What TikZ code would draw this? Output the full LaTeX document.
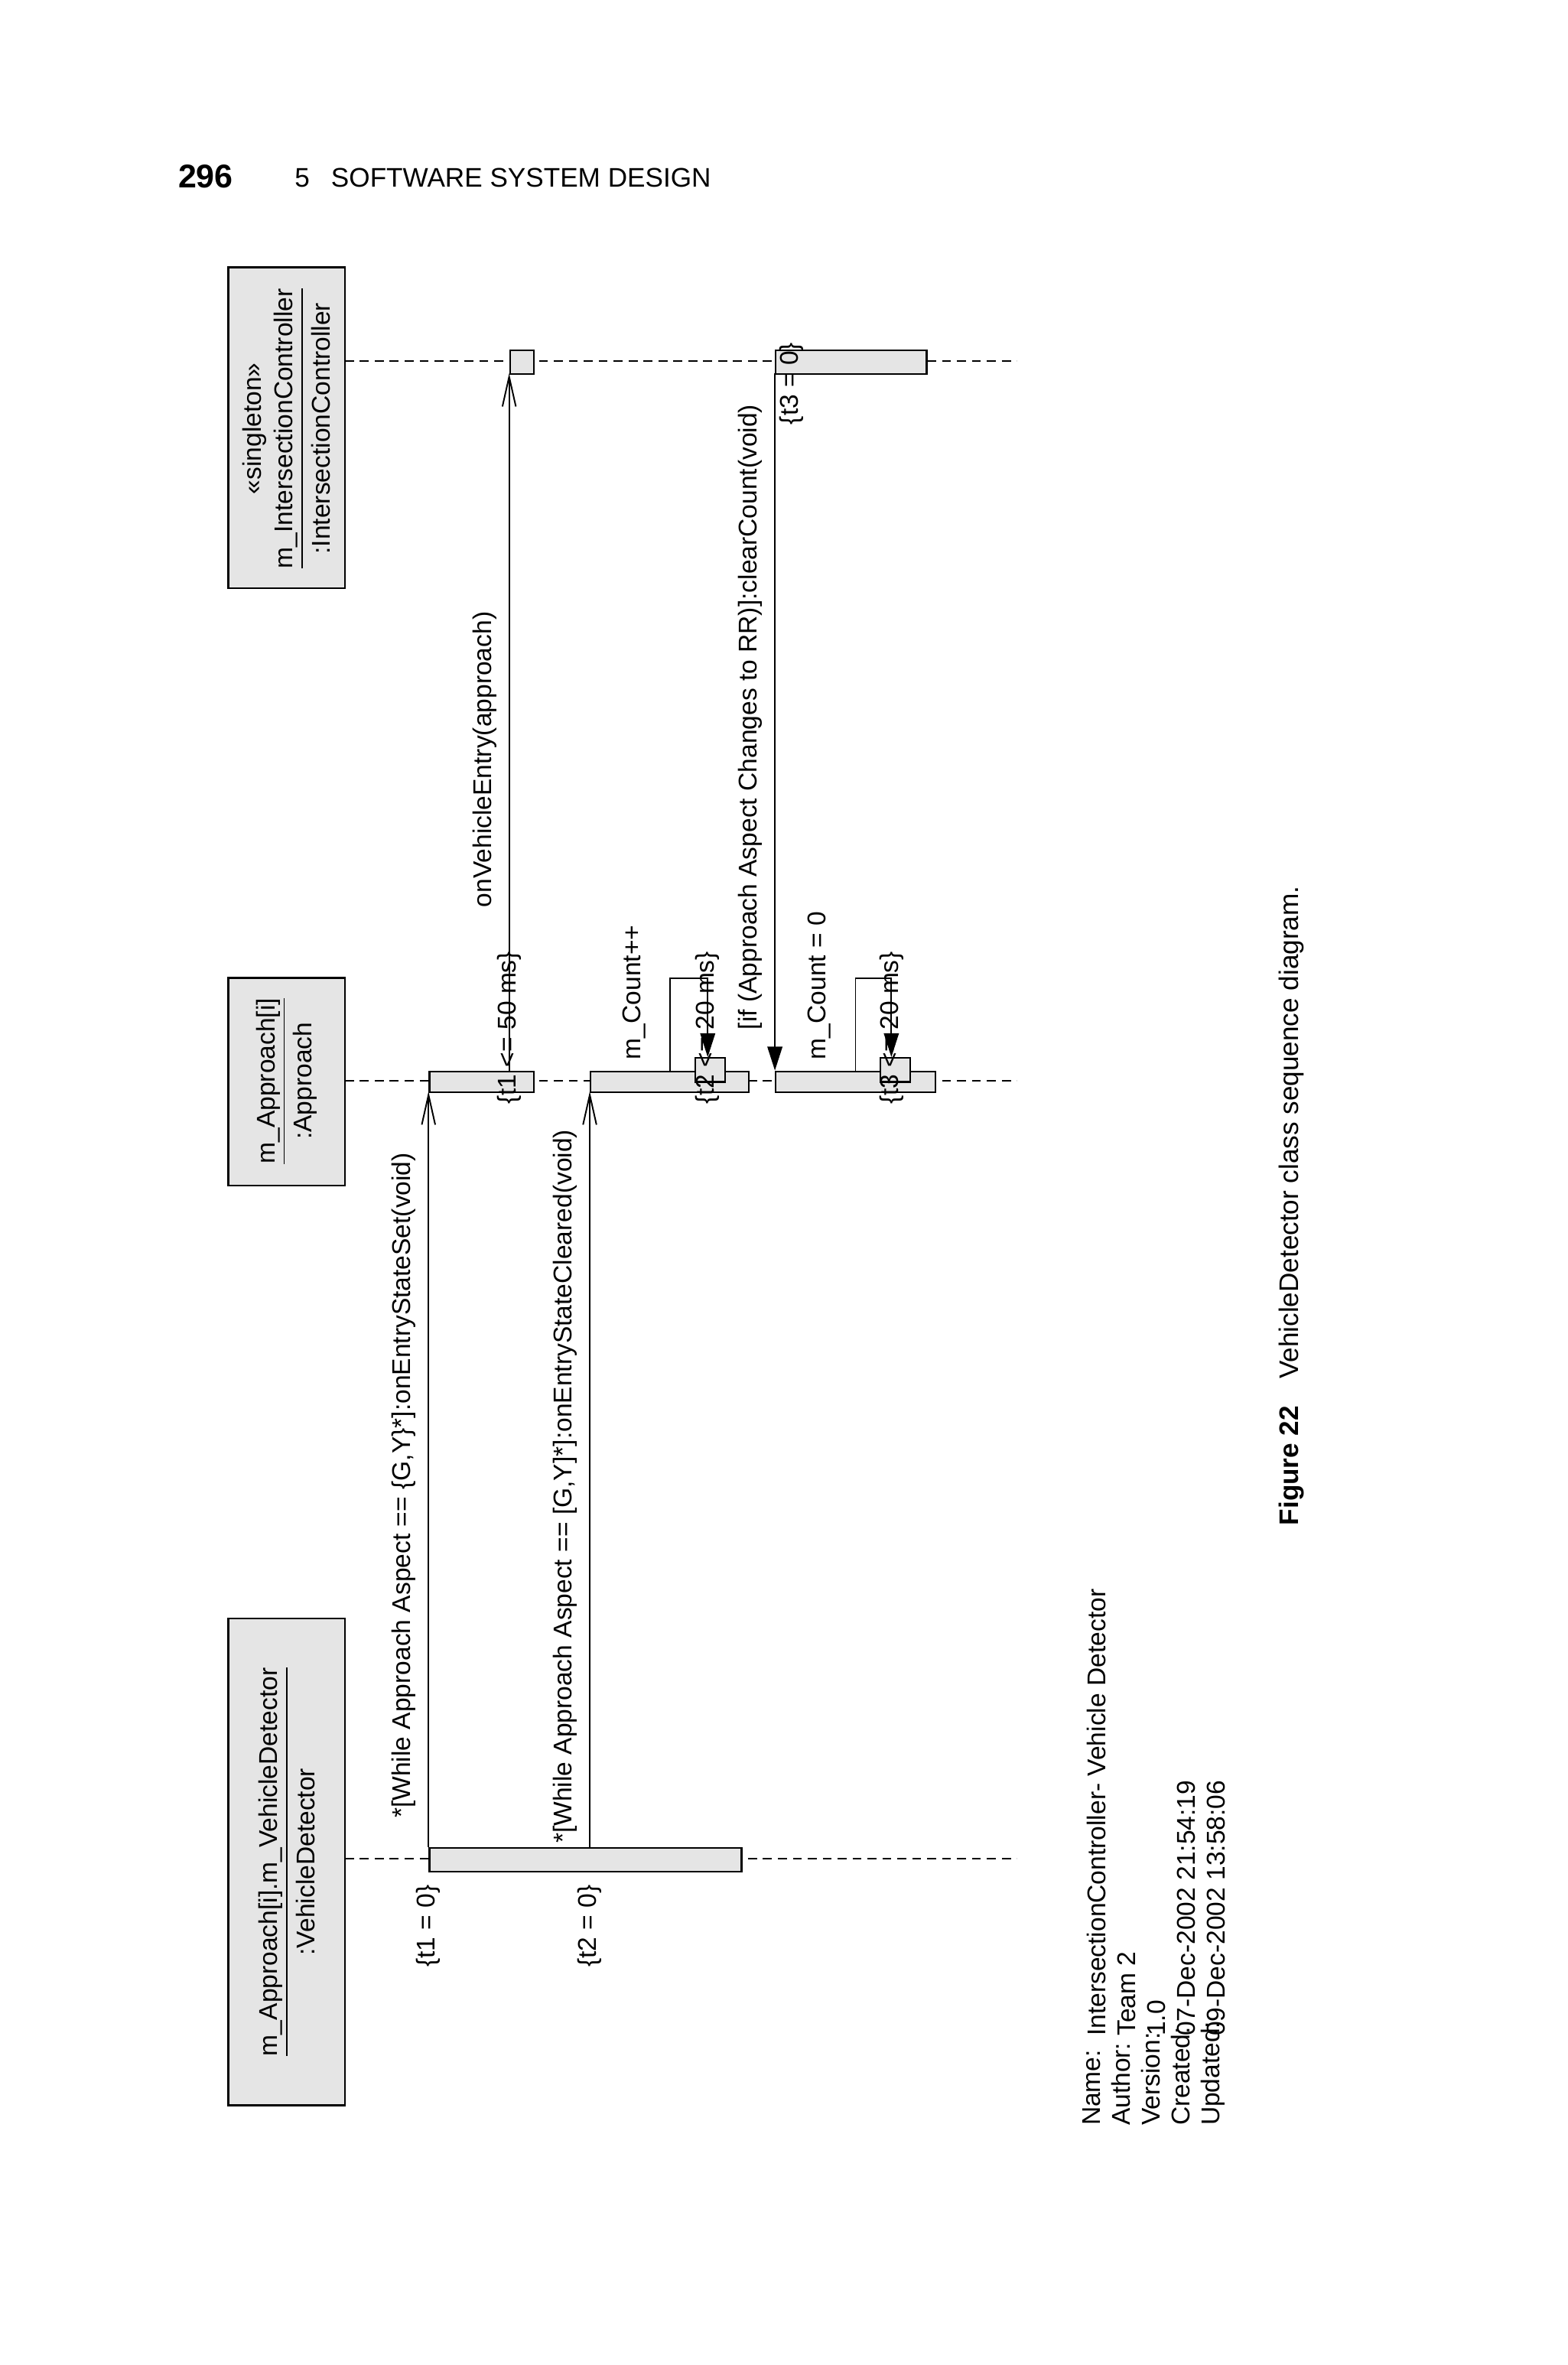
\documentclass[tikz,border=0pt]{standalone}
\usepackage{fontspec}
\setmainfont{Liberation Sans}
\usetikzlibrary{arrows.meta}
\begin{document}
\begin{tikzpicture}[x=0.5pt,y=-0.5pt,
  obj/.style={draw,fill=black!10,line width=0.6pt},
  bar/.style={draw,fill=black!10,line width=0.6pt},
  life/.style={dashed,line width=0.5pt,dash pattern=on 3pt off 2pt},
  msg/.style={line width=0.5pt},
  openarr/.style={-{Straight Barb[length=10pt,width=4.5pt]}},
  fillarr/.style={-{Triangle[length=8pt,width=5pt]}},
  lab/.style={rotate=90,font=\fontsize{8.6}{10}\selectfont,inner sep=0pt},
  ttl/.style={rotate=90,font=\fontsize{8.6}{10.5}\selectfont,align=center,inner sep=0pt}]
\useasboundingbox (0,0) rectangle (1050,1584);
% header
\node[anchor=west,font=\bfseries\fontsize{11}{12}\selectfont,inner sep=0pt] (pg) at (119,118) {296};
\node[anchor=west,font=\fontsize{9}{10}\selectfont,inner sep=0pt] (hd) at (197,119) {5\hspace{0.8em}SOFTWARE SYSTEM DESIGN};
% object boxes
\draw[obj] (153,1084) rectangle (231,1410);
\draw[obj] (153,655) rectangle (231,794);
\draw[obj] (153,179) rectangle (231,394);
\node[ttl] (vdt) at (192,1247) {\underline{m\_Approach[i].m\_VehicleDetector}\\[2pt]:VehicleDetector};
\node[ttl] (apt) at (192,724) {\underline{m\_Approach[i]}\\[2pt]:Approach};
\node[ttl] (ict) at (192,287) {«singleton»\\\underline{m\_IntersectionController}\\[2pt]:IntersectionController};
% lifelines
\draw[life] (231,1245) -- (681,1245);
\draw[life] (231,724) -- (681,724);
\draw[life] (231,242) -- (681,242);
% activation bars
\node[bar,minimum width=0pt,inner sep=0pt,anchor=north west,minimum height=16*0.5pt,text width=209*0.5pt] (vdb) at (287,1237) {};
\node[bar,inner sep=0pt,anchor=north west,minimum height=14*0.5pt,text width=70*0.5pt] (ab1) at (287,717) {};
\node[bar,inner sep=0pt,anchor=north west,minimum height=14*0.5pt,text width=106*0.5pt] (ab2) at (395,717) {};
\node[bar,inner sep=0pt,anchor=north west,minimum height=14*0.5pt,text width=107*0.5pt] (ab3) at (519,717) {};
\node[bar,inner sep=0pt,anchor=north west,minimum height=16*0.5pt,text width=20*0.5pt] (sq1) at (465,708) {};
\node[bar,inner sep=0pt,anchor=north west,minimum height=16*0.5pt,text width=20*0.5pt] (sq2) at (589,708) {};
\node[bar,inner sep=0pt,anchor=north west,minimum height=16*0.5pt,text width=16*0.5pt] (ics) at (341,234) {};
\node[bar,inner sep=0pt,anchor=north west,minimum height=16*0.5pt,text width=101*0.5pt] (icb) at (519,234) {};
% messages
\draw[msg,openarr] (287,1237) -- (287,731);
\draw[msg,openarr] (395,1237) -- (395,731);
\draw[msg,openarr] (341,717) -- (341,250);
\draw[msg,fillarr] (519,250) -- (519,717);
\draw[msg,fillarr] (449,717) -- (449,655) -- (474,655) -- (474,708);
\draw[msg,fillarr] (573,717) -- (573,655) -- (597,655) -- (597,708);
% labels
\node[lab,anchor=south west] (l1) at (279,1218) {*[While Approach Aspect == \{G,Y\}*]:onEntryStateSet(void)};
\node[lab,anchor=south west] (l2) at (387,1235) {*[While Approach Aspect == [G,Y]*]:onEntryStateCleared(void)};
\node[lab,anchor=south west] (l3) at (333,608) {onVehicleEntry(approach)};
\node[lab,anchor=south west] (l4) at (511,690) {[if (Approach Aspect Changes to RR)]:clearCount(void)};
\node[lab,anchor=south west] (l5) at (433,710) {m\_Count++};
\node[lab,anchor=south west] (l6) at (557,710) {m\_Count = 0};
\node[lab,anchor=east] (c1) at (287,1262) {\{t1 = 0\}};
\node[lab,anchor=east] (c2) at (395,1262) {\{t2 = 0\}};
\node[lab,anchor=west] (c3) at (341,740) {\{t1 <= 50 ms\}};
\node[lab,anchor=west] (c4) at (474,740) {\{t2 <= 20 ms\}};
\node[lab,anchor=west] (c5) at (597,740) {\{t3 <= 20 ms\}};
\node[lab,anchor=east] (c6) at (530,229) {\{t3 = 0\}};
% footer
\node[rotate=90,anchor=south west,align=left,font=\fontsize{8.6}{10}\selectfont,inner sep=0pt] (fk) at (821,1424) {Name:\\Author:\\Version:\\Created:\\Updated:};
\node[rotate=90,anchor=south west,align=left,font=\fontsize{8.6}{10}\selectfont,inner sep=0pt] (fv) at (821,1364) {IntersectionController- Vehicle Detector\\Team 2\\1.0\\07-Dec-2002 21:54:19\\09-Dec-2002 13:58:06};
\node[rotate=90,anchor=west,font=\fontsize{9}{10}\selectfont,inner sep=0pt] (cap) at (865,1022) {\textbf{Figure 22}\hspace{1em}VehicleDetector class sequence diagram.};
\end{tikzpicture}
\end{document}
